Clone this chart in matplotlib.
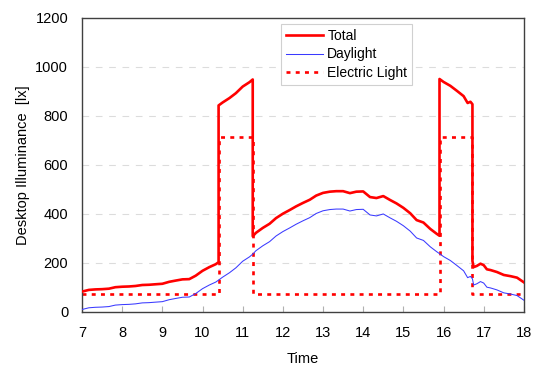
import numpy as np
import matplotlib
matplotlib.use("Agg")
import matplotlib.pyplot as plt

plt.rcParams['font.family'] = ['Liberation Sans', 'DejaVu Sans']

# time of day [h]; repeated entries mark the switching instants of the lamps
time_h = [7.00, 7.17, 7.33, 7.50, 7.67, 7.83, 8.00, 8.17, 8.33, 8.50, 8.67, 8.83,
          9.00, 9.17, 9.33, 9.50, 9.67, 9.83, 10.00, 10.17, 10.33, 10.40, 10.40,
          10.50, 10.67, 10.83, 11.00, 11.17, 11.25, 11.25, 11.33, 11.50, 11.67,
          11.83, 12.00, 12.17, 12.33, 12.50, 12.67, 12.83, 13.00, 13.17, 13.33,
          13.50, 13.67, 13.83, 14.00, 14.17, 14.33, 14.50, 14.67, 14.83, 15.00,
          15.17, 15.33, 15.50, 15.67, 15.83, 15.90, 15.90, 16.00, 16.17, 16.33,
          16.50, 16.60, 16.67, 16.72, 16.72, 16.75, 16.83, 16.92, 17.00, 17.08,
          17.17, 17.33, 17.50, 17.67, 17.83, 18.00]

# daylight contribution on the desk [lx]
daylight = [10, 17, 19, 20, 22, 28, 30, 31, 33, 37, 38, 40,
            42, 50, 55, 60, 61, 75, 95, 110, 122, 130, 130,
            142, 160, 180, 207, 225, 236, 236, 250, 270, 287,
            310, 328, 343, 358, 372, 385, 402, 413, 418, 420,
            420, 412, 418, 419, 396, 392, 400, 384, 370, 352,
            330, 302, 292, 266, 246, 238, 238, 226, 210, 190,
            168, 140, 145, 135, 135, 110, 115, 124, 118, 101,
            98, 90, 78, 73, 67, 48]

# electric lighting contribution [lx]
electric = [73] * 22 + [713] * 7 + [73] * 30 + [713] * 8 + [73] * 12

time_h = np.array(time_h)
daylight = np.array(daylight)
electric = np.array(electric)
total = daylight + electric

fig = plt.figure(figsize=(5.34, 3.67), dpi=100)
ax = fig.add_axes([0.1536, 0.150, 0.8274, 0.801])

ax.plot(time_h, total, color='#ff0000', lw=1.9, label='Total', zorder=3)
ax.plot(time_h, daylight, color='#3a3aff', lw=0.75, label='Daylight', zorder=4)
ax.plot(time_h, electric, color='#ff0000', lw=1.9, linestyle=(0, (1.5, 2.0)),
        label='Electric Light', zorder=2)

ax.set_xlim(7, 18)
ax.set_ylim(0, 1200)
ax.set_xticks(range(7, 19))
ax.set_yticks(range(0, 1201, 200))

for y in range(200, 1200, 200):
    ax.axhline(y, color='#dcdcdc', lw=0.8, linestyle=(0, (6, 6)), zorder=1)

for sp in ax.spines.values():
    sp.set_color('#404040')
    sp.set_linewidth(1.0)

ax.tick_params(axis='x', direction='in', length=4, color='#b0b0b0', pad=10,
               labelsize=10.5, labelcolor='#000000')
ax.tick_params(axis='y', length=0, pad=10, labelsize=10.5)

ax.set_xlabel('Time', fontsize=10.5, labelpad=9)
ax.set_ylabel('Desktop Illuminance  [lx]', fontsize=10.5, labelpad=4)

leg = ax.legend(loc='upper left', bbox_to_anchor=(0.45, 0.978), fontsize=10,
                handlelength=2.7, borderpad=0.35, labelspacing=0.3,
                handletextpad=0.3, fancybox=False, framealpha=1,
                edgecolor='#d0d0d0', borderaxespad=0)
leg.get_frame().set_linewidth(0.8)

fig.savefig('out.png', dpi=100)
